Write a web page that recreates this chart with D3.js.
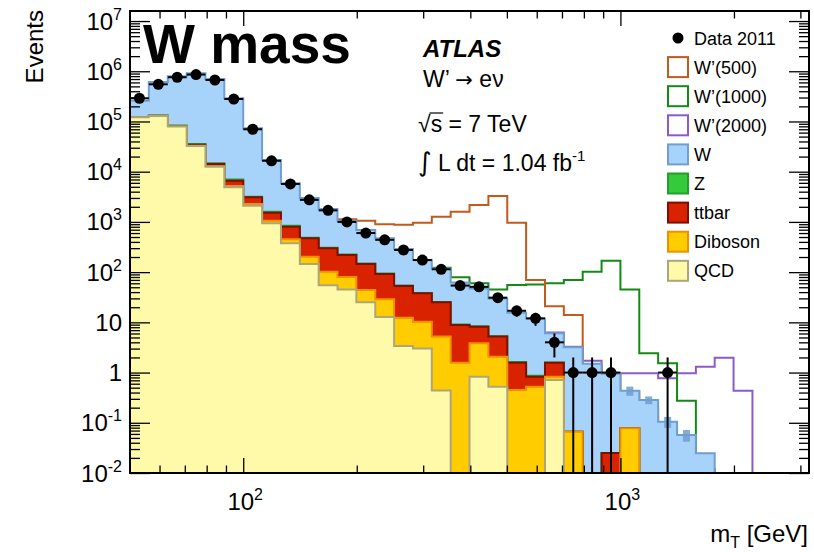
<!DOCTYPE html>
<html>
<head>
<meta charset="utf-8">
<script src="https://cdn.jsdelivr.net/npm/d3@7"></script>
<style>
  body { margin: 0; background: #fff; }
  text { font-family: "Liberation Sans", Arial, Helvetica, sans-serif; fill: #000; }
</style>
</head>
<body>
<svg id="chart" width="814" height="552"></svg>
<script>
// bin edges in mT [GeV] (equal steps in log mT)
const edges = [50.1, 56.2, 63.1, 70.8, 79.4, 89.1, 100, 112.2, 125.9, 141.3, 158.5, 177.8, 199.5,
  223.9, 251.2, 281.8, 316.2, 354.8, 398.1, 446.7, 501.2, 562.3, 631, 707.9, 794.3, 891.3, 1000,
  1122, 1259, 1413, 1585, 1778, 1995, 2239, 2512, 2818, 3162];

// observed events per bin
const data2011 = [2.9e5, 5.5e5, 7.6e5, 8.6e5, 6.7e5, 2.8e5, 7.0e4, 1.65e4, 5700, 2750, 1700, 1000,
  600, 440, 276, 174, 114, 54, 51, 31, 17, 12, 4, 1, 1, 1, 0, 0, 1, 0, 0, 0, 0, 0, 0, 0];

// backgrounds (stacked, bottom to top)
const qcd = [1.21e5, 1.29e5, 7.9e4, 3.25e4, 1.26e4, 4900, 2100, 940, 375, 145, 55, 45, 25, 12.8,
  3.4, 3.0, 0.44, 0, 0.83, 0.52, 0, 0, 0.71, 0, 0, 0, 0, 0, 0, 0, 0, 0, 0, 0, 0, 0];
const diboson = [300, 400, 500, 400, 300, 300, 170, 120, 75, 58, 47, 35, 19, 16, 9, 7.3, 4.8, 1.57,
  3.0, 1.55, 0.45, 0.52, 0.12, 0.066, 0, 0, 0.078, 0, 0, 0, 0, 0, 0, 0, 0, 0];
const ttbar = [200, 400, 900, 1400, 1300, 1400, 820, 460, 352, 268, 196, 140, 101, 63, 40.5, 27.7,
  19.8, 7.3, 4.37, 3.13, 1.12, 0.31, 0.74, 0, 0, 0.025, 0, 0, 0, 0, 0, 0, 0, 0, 0, 0];
const zjets = [1500, 2500, 2500, 1300, 500, 400, 90, 80, 38, 13, 8, 5, 3, 2, 1, 0.6, 0.4, 0.2, 0.15,
  0.1, 0.05, 0.03, 0.02, 0, 0, 0, 0, 0, 0, 0, 0, 0, 0, 0, 0, 0];
const wjets = [1.37e5, 4.78e5, 7.17e5, 8.74e5, 6.85e5, 2.83e5, 6.98e4, 1.55e4, 5060, 2516, 1494, 825,
  542, 377, 236, 136, 92.6, 52.9, 38.6, 24.7, 13.9, 11.1, 4.46, 3.13, 1.5, 0.925, 0.357, 0.285,
  0.105, 0.057, 0.0247, 0, 0, 0, 0, 0];
// MC stat uncertainty on W (only visible in the tail)
const wjetsErr = [0, 0, 0, 0, 0, 0, 0, 0, 0, 0, 0, 0, 0, 0, 0, 0, 0, 0, 0, 0, 0, 0, 0, 0, 0, 0,
  0.09, 0.05, 0.026, 0.015, 0, 0, 0, 0, 0, 0];

// signal hypotheses
const wp500 = [300, 450, 550, 600, 650, 700, 750, 800, 850, 900, 950, 1130, 1060, 900, 880, 964,
  1270, 1600, 2170, 3280, 964, 70, 21, 14, 1.45, 0.9, 0.42, 0.2, 0.08, 0.03, 0.012, 0, 0, 0, 0, 0];
const wp1000 = [100, 150, 170, 180, 170, 160, 150, 140, 130, 125, 120, 118, 115, 112, 110, 112, 122,
  79, 60, 45, 55.5, 57, 60, 70, 102, 169, 45, 2.42, 1.53, 0.275, 0.012, 0, 0, 0, 0, 0];
const wp2000 = [30, 30, 28, 26, 24, 22, 20, 18, 16, 14, 13, 12, 11, 10, 9.5, 9, 8.5, 8, 7.5, 7, 7.5,
  8, 6.3, 3.27, 1.72, 0.97, 0.97, 0.97, 0.77, 0.97, 1.31, 1.98, 0.435, 0, 0, 0];

// axis ticks
const yMajor = [1e-2, 1e-1, 1, 10, 1e2, 1e3, 1e4, 1e5, 1e6, 1e7];
const yTickLabels = [["10", "-2"], ["10", "-1"], ["1", ""], ["10", ""], ["10", "2"], ["10", "3"],
  ["10", "4"], ["10", "5"], ["10", "6"], ["10", "7"]];
const xMajor = [100, 1000];
const xTickLabels = [["10", "2"], ["10", "3"]];
const xMinor = [60, 70, 80, 90, 200, 300, 400, 500, 600, 700, 800, 900, 2000, 3000];

// plot frame
const pL = 130, pR = 809, pT = 11, pB = 473;

const svg = d3.select("#chart");

const x = d3.scaleLog().domain([edges[0], edges[edges.length - 1]]).range([pL, pR]);
const y = d3.scaleLog().domain([0.01, 1.585e7]).range([pB, pT]).clamp(true);
const yv = v => y(v > 0 ? v : 1e-5);

svg.append("defs").append("clipPath").attr("id", "clip")
  .append("rect").attr("x", pL).attr("y", pT)
  .attr("width", pR - pL).attr("height", pB - pT);

const plot = svg.append("g").attr("clip-path", "url(#clip)");

// step points of a histogram
function stepPoints(vals) {
  const pts = [];
  vals.forEach((v, i) => {
    pts.push([x(edges[i]), yv(v)]);
    pts.push([x(edges[i + 1]), yv(v)]);
  });
  return pts;
}
const line = d3.line();

// signals go first: the stack hides them where they are lower
const signals = [
  { vals: wp2000, color: "#8b5bc9" },
  { vals: wp1000, color: "#138a13" },
  { vals: wp500, color: "#c25a1c" }
];
signals.forEach(s => {
  plot.append("path")
    .attr("d", line(stepPoints(s.vals)))
    .attr("fill", "none")
    .attr("stroke", s.color)
    .attr("stroke-width", 2);
});

// stacked backgrounds
const layers = [
  { name: "QCD", vals: qcd, fill: "#fffaa9", stroke: "#aca67c" },
  { name: "Diboson", vals: diboson, fill: "#ffcc00", stroke: "#ef9000" },
  { name: "ttbar", vals: ttbar, fill: "#d82200", stroke: "#7e1000" },
  { name: "Z", vals: zjets, fill: "#35c93c", stroke: "#23a02a" },
  { name: "W", vals: wjets, fill: "#a7d2fa", stroke: "#6f9fd0" }
];
let running = wjets.map(() => 0);
layers.forEach(l => {
  running = running.map((r, i) => r + l.vals[i]);
  l.cum = running.slice();
});
layers.slice().reverse().forEach(l => {
  const pts = [[pL, pB]].concat(stepPoints(l.cum), [[pR, pB]]);
  plot.append("path")
    .attr("d", line(pts) + "Z")
    .attr("fill", l.fill)
    .attr("stroke", l.stroke)
    .attr("stroke-width", 2);
});

// W MC stat boxes
const total = layers[layers.length - 1].cum;
plot.selectAll("rect.mcerr")
  .data(wjetsErr.map((e, i) => ({ e, i })).filter(d => d.e > 0))
  .enter().append("rect")
  .attr("class", "mcerr")
  .attr("x", d => x(Math.sqrt(edges[d.i] * edges[d.i + 1])) - 3.5)
  .attr("width", 7)
  .attr("y", d => y(total[d.i] + d.e))
  .attr("height", d => y(total[d.i] - d.e) - y(total[d.i] + d.e))
  .attr("fill", "#6f9fd0")
  .attr("opacity", 0.85);

// data points with error bars
const pts = data2011.map((n, i) => ({ n, i, xc: Math.sqrt(edges[i] * edges[i + 1]) })).filter(d => d.n > 0);
const dg = plot.append("g");
dg.selectAll("line.h").data(pts).enter().append("line")
  .attr("x1", d => x(edges[d.i])).attr("x2", d => x(edges[d.i + 1]))
  .attr("y1", d => y(d.n)).attr("y2", d => y(d.n))
  .attr("stroke", "#000").attr("stroke-width", 2);
dg.selectAll("line.v").data(pts).enter().append("line")
  .attr("x1", d => x(d.xc)).attr("x2", d => x(d.xc))
  .attr("y1", d => y(d.n + Math.sqrt(d.n))).attr("y2", d => yv(d.n - Math.sqrt(d.n)))
  .attr("stroke", "#000").attr("stroke-width", 2);
dg.selectAll("circle").data(pts).enter().append("circle")
  .attr("cx", d => x(d.xc)).attr("cy", d => y(d.n)).attr("r", 5.5)
  .attr("fill", "#000");

// ticks on all four sides, pointing inwards
function tickSet(axis, vals, size, tx, ty) {
  const g = svg.append("g").attr("transform", `translate(${tx},${ty})`)
    .call(axis.tickValues(vals).tickSize(-size).tickFormat(""));
  g.select(".domain").remove();
  g.selectAll("line").attr("stroke", "#000").attr("stroke-width", 1.3);
}
const yMinor = [];
for (let e = -2; e <= 6; e++) for (let m = 2; m <= 9; m++) yMinor.push(m * Math.pow(10, e));
tickSet(d3.axisLeft(y), yMajor, 20, pL, 0);
tickSet(d3.axisLeft(y), yMinor, 10, pL, 0);
tickSet(d3.axisRight(y), yMajor, 20, pR, 0);
tickSet(d3.axisRight(y), yMinor, 10, pR, 0);
tickSet(d3.axisBottom(x), xMajor, 15, 0, pB);
tickSet(d3.axisBottom(x), xMinor, 7.5, 0, pB);
tickSet(d3.axisTop(x), xMajor, 15, 0, pT);
tickSet(d3.axisTop(x), xMinor, 7.5, 0, pT);

// frame
svg.append("rect")
  .attr("x", pL).attr("y", pT)
  .attr("width", pR - pL).attr("height", pB - pT)
  .attr("fill", "none").attr("stroke", "#000").attr("stroke-width", 2);

// tick labels
yMajor.forEach((v, i) => {
  const t = svg.append("text")
    .attr("x", 122).attr("y", y(v) + 8.5)
    .attr("text-anchor", "end")
    .style("font-size", "24px");
  t.append("tspan").text(yTickLabels[i][0]);
  if (yTickLabels[i][1]) {
    t.append("tspan").attr("dy", -10).style("font-size", "16px").text(yTickLabels[i][1]);
  }
});
xMajor.forEach((v, i) => {
  const t = svg.append("text")
    .attr("x", x(v) + 2).attr("y", 510)
    .attr("text-anchor", "middle")
    .style("font-size", "24px");
  t.append("tspan").text(xTickLabels[i][0]);
  t.append("tspan").attr("dy", -10).style("font-size", "16px").text(xTickLabels[i][1]);
});

// axis titles
svg.append("text")
  .attr("transform", "translate(43,10) rotate(-90)")
  .attr("text-anchor", "end")
  .style("font-size", "24px")
  .text("Events");
const xt = svg.append("text")
  .attr("x", 808).attr("y", 542)
  .attr("text-anchor", "end")
  .style("font-size", "24px");
xt.append("tspan").text("m");
xt.append("tspan").attr("dy", 6).style("font-size", "16px").text("T");
xt.append("tspan").attr("dy", -6).text(" [GeV]");

// big title
svg.append("text")
  .attr("x", 143).attr("y", 63)
  .style("font-size", "55px").style("font-weight", "bold")
  .text("W mass");

// ATLAS block
svg.append("text")
  .attr("x", 423).attr("y", 57)
  .style("font-size", "24px").style("font-weight", "bold").style("font-style", "italic")
  .text("ATLAS");
const wl = svg.append("text")
  .attr("x", 423).attr("y", 87)
  .style("font-size", "23px");
wl.append("tspan").text("W\u2019 ");
wl.append("tspan").style("font-family", "DejaVu Sans").style("font-size", "21px").text("\u2192");
wl.append("tspan").text(" e\u03bd");
const sq = svg.append("text")
  .attr("x", 418).attr("y", 132)
  .style("font-size", "23px");
sq.append("tspan").text("\u221a");
sq.append("tspan").text("s = 7 TeV");
const sqNode = sq.node();
const sStart = 418 + sqNode.getSubStringLength(0, 1);
const sEnd = sStart + sqNode.getSubStringLength(1, 1);
svg.append("line")
  .attr("x1", sStart - 1).attr("x2", sEnd + 1)
  .attr("y1", 113).attr("y2", 113)
  .attr("stroke", "#000").attr("stroke-width", 1.2);
const lumi = svg.append("text")
  .attr("x", 418).attr("y", 171)
  .style("font-size", "23px");
lumi.append("tspan").style("font-family", "DejaVu Sans").style("font-size", "26px").text("\u222b");
lumi.append("tspan").text(" L dt = 1.04 fb");
lumi.append("tspan").attr("dy", -10).style("font-size", "15px").text("-1");

// legend
const legendRows = [
  { label: "Data 2011", type: "data" },
  { label: "W\u2019(500)", fill: "#fff", stroke: "#c25a1c" },
  { label: "W\u2019(1000)", fill: "#fff", stroke: "#138a13" },
  { label: "W\u2019(2000)", fill: "#fff", stroke: "#8b5bc9" },
  { label: "W", fill: "#a7d2fa", stroke: "#6f9fd0" },
  { label: "Z", fill: "#35c93c", stroke: "#23a02a" },
  { label: "ttbar", fill: "#d82200", stroke: "#7e1000" },
  { label: "Diboson", fill: "#ffcc00", stroke: "#ef9000" },
  { label: "QCD", fill: "#fffaa9", stroke: "#aca67c" }
];
const lg = svg.append("g").attr("transform", "translate(667,38)");
legendRows.forEach((r, i) => {
  const row = lg.append("g").attr("transform", `translate(0,${i * 29.1})`);
  if (r.type === "data") {
    row.append("circle").attr("cx", 11).attr("cy", 0).attr("r", 5.5).attr("fill", "#000");
  } else {
    row.append("rect").attr("x", 1).attr("y", -10).attr("width", 20).attr("height", 20)
      .attr("fill", r.fill).attr("stroke", r.stroke).attr("stroke-width", 2);
  }
  row.append("text").attr("x", 27).attr("y", 6.5).style("font-size", "18px").text(r.label);
});
</script>
</body>
</html>
